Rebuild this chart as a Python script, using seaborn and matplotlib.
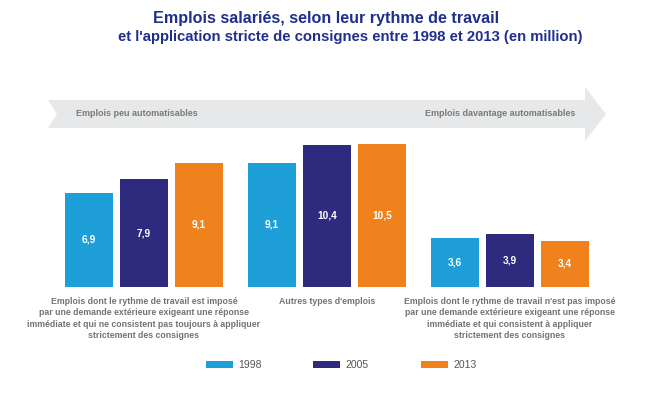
import pandas as pd
import numpy as np
import matplotlib.pyplot as plt
import seaborn as sns
from matplotlib.patches import Polygon, Patch

# Data
categories = [
    "Emplois dont le rythme de travail est imposé\npar une demande extérieure exigeant une réponse\nimmédiate et qui ne consistent pas toujours à appliquer\nstrictement des consignes",
    "Autres types d'emplois",
    "Emplois dont le rythme de travail n'est pas imposé\npar une demande extérieure exigeant une réponse\nimmédiate et qui consistent à appliquer\nstrictement des consignes",
]
years = ["1998", "2005", "2013"]
values_1998 = [6.9, 9.1, 3.6]
values_2005 = [7.9, 10.4, 3.9]
values_2013 = [9.1, 10.5, 3.4]

colors = ["#1e9fd8", "#2e2a7e", "#f0821e"]
text_grey = "#737373"
title_blue = "#1f2f8c"

df = pd.DataFrame({
    "cat": np.repeat([0, 1, 2], 3),
    "year": years * 3,
    "value": [v for trio in zip(values_1998, values_2005, values_2013) for v in trio],
})

W, H = 652, 394
fig = plt.figure(figsize=(W / 100, H / 100), dpi=100)
plt.rcParams['font.family'] = ['Liberation Sans', 'DejaVu Sans']


def fx(px):
    return px / W


def fy(py):
    return (H - py) / H


# Title
fig.text(fx(326), fy(18), "Emplois salariés, selon leur rythme de travail",
         ha='center', va='center', fontsize=11.6, fontweight='bold', color=title_blue)
fig.text(fx(350), fy(37), "et l'application stricte de consignes entre 1998 et 2013 (en million)",
         ha='center', va='center', fontsize=10.7, fontweight='bold', color=title_blue)

# Background arrow
pts = [(48, 100), (585, 100), (585, 87), (606, 114), (585, 141), (585, 128), (48, 128), (57, 114)]
fig.patches.append(Polygon([(fx(x), fy(y)) for x, y in pts], closed=True,
                           transform=fig.transFigure, facecolor="#e7e8e9", edgecolor='none', zorder=0))
fig.text(fx(76), fy(114), "Emplois peu automatisables", ha='left', va='center',
         fontsize=6.5, fontweight='bold', color="#7a7a7a")
fig.text(fx(575), fy(114), "Emplois davantage automatisables", ha='right', va='center',
         fontsize=6.5, fontweight='bold', color="#7a7a7a")

# Bars axes
ax_left, ax_right = 52.5, 601.5
base, top = 287, 123
ax = fig.add_axes([fx(ax_left), fy(base), (ax_right - ax_left) / W, (base - top) / H])
sns.barplot(data=df, x="cat", y="value", hue="year", palette=colors, width=0.9, gap=0.13,
            saturation=1, legend=False, ax=ax)
ax.set_xlim(-0.5, 2.5)
ax.set_ylim(0, 12)
ax.set_xlabel("")
ax.set_ylabel("")
ax.set_yticks([])
ax.set_xticks([0, 1, 2])
ax.set_xticklabels(categories, fontsize=6.3, fontweight='bold', color=text_grey, va='top',
                   linespacing=1.35)
ax.tick_params(axis='x', length=0, pad=7)
for s in ax.spines.values():
    s.set_visible(False)
ax.patch.set_alpha(0)

# Value labels in the middle of each bar
for cont in ax.containers:
    ax.bar_label(cont, labels=[f"{b.get_height():.1f}".replace('.', ',') for b in cont],
                 label_type='center', color='white', fontsize=7.3, fontweight='bold')

# Legend
handles = [Patch(facecolor=c, edgecolor='none') for c in colors]
fig.legend(handles, years, loc='center', bbox_to_anchor=(fx(341), fy(365)), ncol=3,
           frameon=False, fontsize=7.5, labelcolor="#555555", handlelength=2.6, handleheight=0.6,
           columnspacing=5.0, handletextpad=0.5)

fig.savefig("out.png", dpi=100, facecolor='white')
